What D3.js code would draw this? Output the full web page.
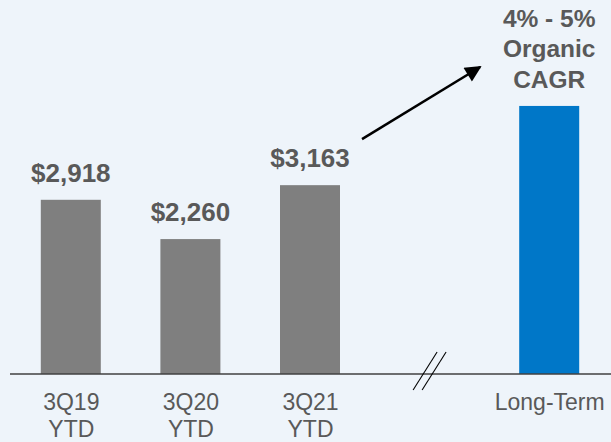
<!DOCTYPE html>
<html lang="en">
<head>
  <meta charset="UTF-8">
  <title>Revenue chart</title>
  <style>
  body { margin: 0; background: #EEF4FA; }
  svg { display: block; }
  .val { font-family: "Liberation Sans", Arial, sans-serif; font-weight: bold; font-size: 26px; fill: #595959; }
  .tgt { font-family: "Liberation Sans", Arial, sans-serif; font-weight: bold; font-size: 24.5px; fill: #595959; }
  .cat { font-family: "Liberation Sans", Arial, sans-serif; font-size: 23px; fill: #595959; }
  </style>
</head>
<body>
  <script src="https://d3js.org/d3.v7.min.js"></script>
  <script>
categories = ["3Q19 YTD", "3Q20 YTD", "3Q21 YTD", "", "Long-Term"]
values = [2918, 2260, 3163, null, 4490]
valueLabels = ["$2,918", "$2,260", "$3,163", "", ""]
targetLabel = ["4% - 5%", "Organic", "CAGR"]
barColors = ["#7F7F7F", "#7F7F7F", "#7F7F7F", null, "#0077C8"]

width = 611
height = 442
baseY = 374
barWidth = 60

x = d3.scalePoint()
  .domain(d3.range(categories.length))
  .range([11, 609])
  .padding(0.5)

y = d3.scaleLinear()
  .domain([0, 5000])
  .range([baseY, baseY - 5000 * 0.0597])

svg = d3.select("body").append("svg")
  .attr("width", width)
  .attr("height", height)

svg.append("defs").append("marker")
  .attr("id", "head")
  .attr("viewBox", "0 0 10 10")
  .attr("refX", 9).attr("refY", 5)
  .attr("markerWidth", 7.5).attr("markerHeight", 6.5)
  .attr("markerUnits", "strokeWidth")
  .attr("orient", "auto")
  .append("path")
  .attr("d", "M0,0 L10,5 L0,10 z")
  .attr("fill", "#000")

const idx = d3.range(categories.length).filter(i => values[i] != null)

svg.append("g")
  .selectAll("rect")
  .data(idx)
  .join("rect")
    .attr("x", i => x(i) - barWidth / 2)
    .attr("y", i => y(values[i]))
    .attr("width", barWidth)
    .attr("height", i => y(0) - y(values[i]))
    .attr("fill", i => barColors[i])

svg.append("g")
  .selectAll("text")
  .data(idx.filter(i => valueLabels[i]))
  .join("text")
    .attr("class", "val")
    .attr("text-anchor", "middle")
    .attr("x", i => x(i))
    .attr("y", i => y(values[i]) - 18)
    .text(i => valueLabels[i])

// text above the long-term bar
const lt = categories.length - 1
svg.append("text")
  .attr("class", "tgt")
  .attr("text-anchor", "middle")
  .selectAll("tspan")
  .data(targetLabel)
  .join("tspan")
    .attr("x", x(lt))
    .attr("y", (d, k) => y(values[lt]) - 18 - (targetLabel.length - 1 - k) * 30.5)
    .text(d => d)

// baseline axis
const axis = svg.append("g")
  .attr("transform", `translate(0,${baseY})`)
  .call(d3.axisBottom(x).tickSize(0).tickFormat(""))
axis.select(".domain")
  .attr("d", "M10,0H611")
  .attr("stroke", "#404040")
  .attr("stroke-width", 1.5)

axis.selectAll(".tick").each(function(i) {
  const words = categories[i].split(" ")
  const t = d3.select(this).append("text")
    .attr("class", "cat")
    .attr("text-anchor", "middle")
    .attr("fill", "#595959")
  words.forEach((w, k) => {
    t.append("tspan").attr("x", 0).attr("y", 36 + k * 27).text(w)
  })
})

// axis break marks
const gapX = x(3)
svg.append("g")
  .selectAll("line")
  .data([-4.5, 4.5])
  .join("line")
    .attr("x1", d => gapX + d - 12)
    .attr("y1", baseY + 16)
    .attr("x2", d => gapX + d + 12)
    .attr("y2", baseY - 22)
    .attr("stroke", "#000")
    .attr("stroke-width", 1.1)

// growth arrow
svg.append("line")
  .attr("x1", x(2) + 52).attr("y1", y(values[2]) - 46)
  .attr("x2", x(lt) - 69).attr("y2", y(values[lt]) - 39)
  .attr("stroke", "#000")
  .attr("stroke-width", 2.5)
  .attr("marker-end", "url(#head)")
  </script>
</body>
</html>
